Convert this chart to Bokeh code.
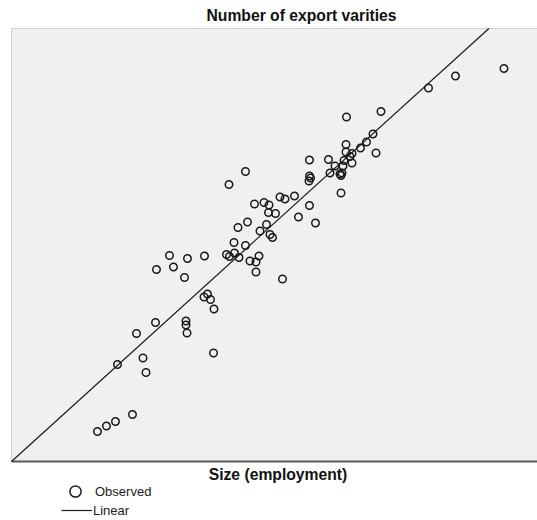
from bokeh.plotting import figure
from bokeh.models import Range1d, Label, Legend, LegendItem, BoxAnnotation
from bokeh.embed import file_html
from bokeh.resources import INLINE
import numpy as np

size_employment = [8.6, 9.5, 10.4, 12.1, 10.6, 13.15, 13.45, 12.5, 14.4, 17.45,
                   17.45, 17.55, 20.2, 19.25, 19.6, 19.9, 20.25, 14.5, 15.8, 16.2,
                   17.6, 17.3, 19.3, 21.5, 21.8, 22.3, 22.75, 22.25, 23.4, 23.85,
                   24.45, 24.75, 24.45, 27.1, 22.65, 23.6, 24.85, 25.5, 25.85, 26.1,
                   24.3, 25.25, 25.75, 25.7, 26.4, 26.85, 27.35, 28.3, 28.7, 29.8,
                   30.4, 21.75, 23.4, 29.8, 29.8, 29.9, 29.75, 31.7, 32.35, 33.15,
                   31.85, 32.85, 33.05, 32.95, 32.95, 33.25, 33.45, 34.05, 33.85, 34.05,
                   33.45, 33.5, 36.95, 36.15, 35.5, 34.9, 36.45, 41.7, 44.4, 49.25]
export_varieties = [3.0, 3.55, 4.0, 4.7, 9.7, 10.35, 8.9, 12.8, 13.9, 14.05,
                    13.65, 12.85, 10.85, 16.45, 16.75, 16.2, 15.25, 19.2, 20.6, 19.45,
                    20.3, 18.4, 20.55, 20.7, 20.5, 20.85, 20.4, 21.9, 21.6, 20.05,
                    19.95, 20.55, 18.95, 18.25, 23.4, 23.95, 23.05, 23.7, 22.7, 22.4,
                    25.75, 25.9, 25.65, 24.9, 24.8, 26.45, 26.25, 26.55, 24.45, 25.6,
                    23.85, 27.7, 29.0, 30.15, 28.55, 28.35, 28.05, 30.2, 29.55, 29.55,
                    28.85, 28.75, 28.85, 28.6, 26.85, 30.1, 30.95, 30.8, 30.5, 29.85,
                    31.7, 34.45, 35.0, 32.75, 31.95, 31.35, 30.85, 37.35, 38.55, 39.3]

# Linear fit
fit_intercept = 0.0
fit_slope = 0.907

# plot-area extent in data units
x_min, y_min, y_max = 0.0, 0.0, 43.3

title_text = "Number of export varities"
xlabel_text = "Size (employment)"
legend_labels = ["Observed", "Linear"]

FONT = "Liberation Sans"

p = figure(width=537, height=520, output_backend="svg", toolbar_location=None,
           x_range=Range1d(-1.1, 52.6), y_range=Range1d(-5.9, 46.1),
           x_axis_location=None, y_axis_location=None,
           min_border=0)
p.title.text = ""
p.background_fill_color = "white"
p.border_fill_color = "white"
p.outline_line_color = None
p.xgrid.visible = False
p.ygrid.visible = False

# plot area (grey panel with border)
p.add_layout(BoxAnnotation(left=x_min, bottom=y_min, top=y_max,
                           fill_color="#f0f0f0", fill_alpha=1,
                           line_color="#7a7a7a", line_width=1, level="underlay"))
p.add_layout(BoxAnnotation(left=x_min, bottom=y_min - 0.1, top=y_min + 0.1,
                           fill_color="#5a5a5a", fill_alpha=1, line_color=None,
                           level="underlay"))

# regression line, clipped at the top of the plot area
x_top = (y_max - fit_intercept) / fit_slope
fx = np.array([x_min, x_top])
fy = fit_intercept + fit_slope * fx
line_r = p.line(fx, fy, line_color="#1a1a1a", line_width=1.2)

scat_r = p.scatter(size_employment, export_varieties, marker="circle", size=7.5,
                   fill_color=None, line_color="#1a1a1a", line_width=1.5)

# texts
p.add_layout(Label(x=29.0, y=44.6, text=title_text, text_align="center",
                   text_baseline="middle", text_font=FONT, text_font_size="15.7px",
                   text_font_style="bold", text_color="#111111"))
p.add_layout(Label(x=26.65, y=-1.25, text=xlabel_text, text_align="center",
                   text_baseline="middle", text_font=FONT, text_font_size="15.7px",
                   text_font_style="bold", text_color="#111111"))

# legends
leg1 = Legend(items=[LegendItem(label=legend_labels[0], renderers=[scat_r])],
              location=(61, 15), glyph_width=28, glyph_height=28, label_standoff=6,
              label_height=14, padding=0, margin=0, spacing=0,
              border_line_color=None, background_fill_alpha=0,
              label_text_font=FONT, label_text_font_size="13px", label_text_color="#222222")
leg2 = Legend(items=[LegendItem(label=legend_labels[1], renderers=[line_r])],
              location=(61, 2), glyph_width=31, glyph_height=16, label_standoff=1,
              label_height=16, padding=0, margin=0, spacing=0,
              border_line_color=None, background_fill_alpha=0,
              label_text_font=FONT, label_text_font_size="13px", label_text_color="#222222")
p.add_layout(leg1, "center")
p.add_layout(leg2, "center")

open("out.html", "w").write(file_html(p, INLINE))
